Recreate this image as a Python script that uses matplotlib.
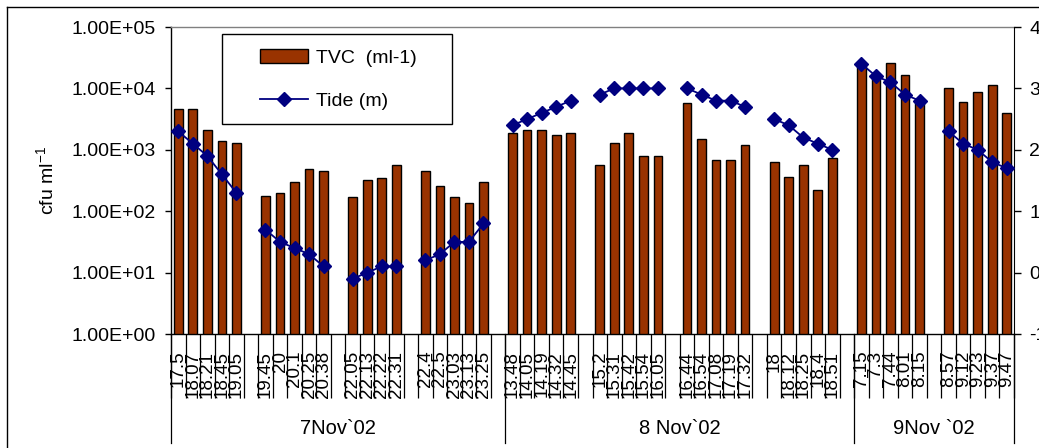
import numpy as np
import matplotlib
matplotlib.use("Agg")
import matplotlib.pyplot as plt
from matplotlib.lines import Line2D
from matplotlib.patches import Rectangle

plt.rcParams['font.family'] = ['Liberation Sans', 'DejaVu Sans']
plt.rcParams['mathtext.fontset'] = 'custom'
plt.rcParams['mathtext.rm'] = 'Liberation Sans'
plt.rcParams['mathtext.it'] = 'Liberation Sans'

# ---- data ("" = empty separator slot) ----
time_labels = ["17.5", "18.07", "18.21", "18.45", "19.05", "",
               "19.45", "20", "20.1", "20.25", "20.38", "",
               "22.05", "22.13", "22.22", "22.31", "",
               "22.4", "22.5", "23.03", "23.13", "23.25", "",
               "13.48", "14.05", "14.19", "14.32", "14.45", "",
               "15.2", "15.31", "15.42", "15.54", "16.05", "",
               "16.44", "16.54", "17.08", "17.19", "17.32", "",
               "18", "18.12", "18.25", "18.4", "18.51", "",
               "7.15", "7.3", "7.44", "8.01", "8.15", "",
               "8.57", "9.12", "9.23", "9.37", "9.47"]

tvc = [4600, 4600, 2120, 1390, 1290, None,
       179, 195, 296, 487, 452, None,
       168, 319, 343, 559, None,
       452, 254, 168, 138, 296, None,
       1860, 2120, 2120, 1720, 1860, None,
       560, 1300, 1860, 800, 800, None,
       5700, 1500, 690, 690, 1210, None,
       640, 365, 560, 221, 727, None,
       25600, 16500, 25600, 16500, 6500, None,
       10000, 6060, 8830, 11400, 3930]

tide = [2.3, 2.1, 1.9, 1.6, 1.3, None,
        0.7, 0.5, 0.4, 0.3, 0.1, None,
        -0.1, 0.0, 0.1, 0.1, None,
        0.2, 0.3, 0.5, 0.5, 0.8, None,
        2.4, 2.5, 2.6, 2.7, 2.8, None,
        2.9, 3.0, 3.0, 3.0, 3.0, None,
        3.0, 2.9, 2.8, 2.8, 2.7, None,
        2.5, 2.4, 2.2, 2.1, 2.0, None,
        3.4, 3.2, 3.1, 2.9, 2.8, None,
        2.3, 2.1, 2.0, 1.8, 1.7]

day_labels = ["7Nov`02", "8 Nov`02", "9Nov `02"]
day_slots = [23, 24, 11]

left_ticks = [1e0, 1e1, 1e2, 1e3, 1e4, 1e5]
left_ticklabels = ["1.00E+00", "1.00E+01", "1.00E+02", "1.00E+03", "1.00E+04", "1.00E+05"]
right_ticks = [-1, 0, 1, 2, 3, 4]
right_ticklabels = ["-1", "0", "1", "2", "3", "4"]

# ---- figure ----
W, H = 1039, 448
fig = plt.figure(figsize=(W / 100, H / 100), dpi=100)
L, R, T, B = 171, 1014, 27, 334
ax = fig.add_axes([L / W, 1 - B / H, (R - L) / W, (B - T) / H])

n = len(time_labels)
x = np.arange(n)
bar_x = [i for i in range(n) if tvc[i] is not None]
bar_v = [tvc[i] for i in bar_x]
tide_arr = np.array([np.nan if v is None else v for v in tide], dtype=float)

bars = ax.bar(bar_x, bar_v, width=0.6, color='#993300', edgecolor='black',
              linewidth=1.0, label='TVC  (ml-1)', zorder=2)
ax.set_yscale('log')
ax.set_ylim(1, 1e5)
ax.set_xlim(-0.5, n - 0.5)
ax.set_yticks(left_ticks)
ax.set_yticklabels(left_ticklabels)
ax.minorticks_off()
ax.tick_params(axis='y', which='major', direction='out', length=4, width=1,
               pad=7, labelsize=14, colors='black')

# category labels and separators
lab_x = [i for i in range(n) if time_labels[i] != ""]
ax.set_xticks(lab_x)
ax.set_xticklabels([time_labels[i] for i in lab_x], rotation=90, va='top')
ax.tick_params(axis='x', which='major', length=0, pad=12, labelsize=13.5)
ax.set_xticks(np.arange(-0.5, n, 1.0), minor=True)
ax.tick_params(axis='x', which='minor', direction='out', length=46, width=0.9,
               color='black')

ax.set_ylabel("cfu ml$^{-1}$", fontsize=14)
ax.yaxis.set_label_coords(-0.135, 0.5)

for s in ['left', 'bottom']:
    ax.spines[s].set_color('black')
    ax.spines[s].set_linewidth(1.0)
ax.spines['top'].set_color('#808080')
ax.spines['top'].set_linewidth(1.0)
ax.spines['right'].set_visible(False)

# day groups
trans = ax.get_xaxis_transform()
edges = np.concatenate([[-0.5], -0.5 + np.cumsum(day_slots)])
for e in edges:
    ax.plot([e, e], [0, -(443 - B) / (B - T)], color='black', lw=0.9,
            transform=trans, clip_on=False)
for i, lab in enumerate(day_labels):
    ax.text((edges[i] + edges[i + 1]) / 2, -(428 - B) / (B - T), lab,
            transform=trans, ha='center', va='center', fontsize=14.5)

# tide on secondary axis
ax2 = ax.twinx()
ax2.plot(x, tide_arr, color='#000080', lw=1.3, marker='D', markersize=7.5,
         markerfacecolor='#000080', markeredgecolor='#000080', label='Tide (m)',
         zorder=3)
ax2.set_ylim(-1, 4)
ax2.set_yticks(right_ticks)
ax2.set_yticklabels(right_ticklabels)
ax2.tick_params(axis='y', direction='out', length=5, width=1, pad=6,
                labelsize=14)
ax2.spines['right'].set_color('black')
for s in ['left', 'top', 'bottom']:
    ax2.spines[s].set_visible(False)

# legend
ax2.add_patch(Rectangle(((222 - L) / (R - L), (B - 124) / (B - T)),
                        (452 - 222) / (R - L), (124 - 34) / (B - T),
                        transform=ax2.transAxes, facecolor='white',
                        edgecolor='black', lw=1.0, zorder=4))
handles = [bars, ax2.get_lines()[0]]
leg = ax2.legend(handles, ['TVC  (ml-1)', 'Tide (m)'], loc='upper left',
                 bbox_to_anchor=((260 - L) / (R - L), (B - 49) / (B - T)),
                 frameon=False, borderpad=0, borderaxespad=0,
                 handlelength=2.45, handletextpad=0.45, labelspacing=1.3,
                 fontsize=14)
leg.set_zorder(5)

# outer chart border (cut by image edges)
fig.add_artist(Line2D([7 / W, 7 / W], [0, 1 - 7 / H], color='black', lw=1.0,
                      transform=fig.transFigure))
fig.add_artist(Line2D([7 / W, 1], [1 - 7 / H, 1 - 7 / H], color='black', lw=1.0,
                      transform=fig.transFigure))

fig.savefig("out.png", dpi=100)
